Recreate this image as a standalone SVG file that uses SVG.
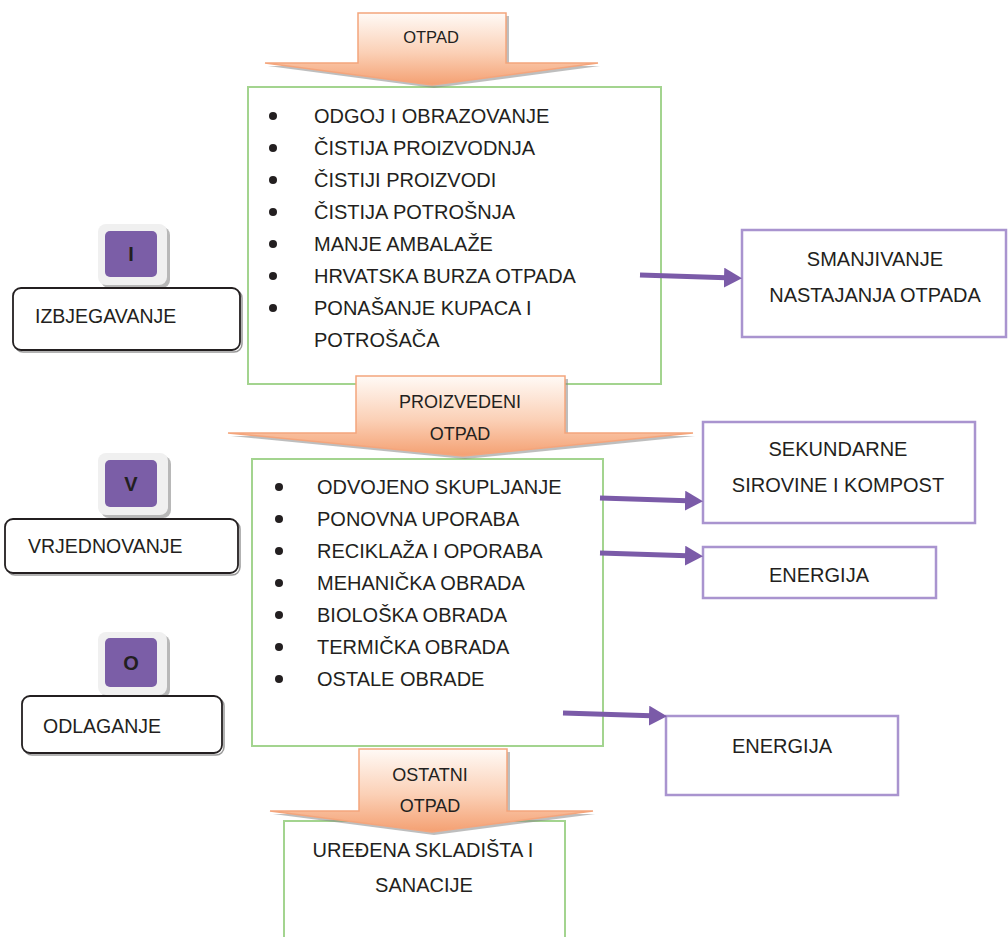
<svg xmlns="http://www.w3.org/2000/svg" width="1008" height="937" viewBox="0 0 1008 937">
<style>
.t{font-family:"Liberation Sans",Arial,sans-serif;fill:#231f20;}
.li{font-size:20px;}
.lab{font-size:19.5px;}
.rt{font-size:20px;text-anchor:middle;}
.at{text-anchor:middle;}
.sq{font-size:20px;font-weight:bold;text-anchor:middle;}
.gbox{fill:#fff;stroke:#a3d48f;stroke-width:2;}
.pbox{fill:#fff;stroke:#a994cf;stroke-width:2.5;}
.lbox{fill:#fff;stroke:#231f20;stroke-width:1.8;}
.lsh{fill:none;stroke:#555;stroke-width:1.5;opacity:0.6;}
.sqo{fill:#f0f0f0;}
.sqs{fill:#9a9a9a;opacity:0.7;}
.sqi{fill:#7b5ea7;}
.arr{fill:url(#og);stroke:#f4a57c;stroke-width:1.5;}
.ash{fill:#888;opacity:0.55;}
.con{stroke:#7b5ba8;stroke-width:5;fill:none;marker-end:url(#ah);}
.bul{fill:#231f20;}
</style>
<defs>
<linearGradient id="og" x1="0" y1="0" x2="0" y2="1">
<stop offset="0" stop-color="#fffaf6"/>
<stop offset="0.55" stop-color="#fbd0b6"/>
<stop offset="1" stop-color="#f4a072"/>
</linearGradient>
<marker id="ah" viewBox="0 0 18 20" refX="10" refY="10" markerWidth="18" markerHeight="20" markerUnits="userSpaceOnUse" orient="auto">
<path d="M0,0 L18,10 L0,20 z" fill="#7b5ba8"/>
</marker>
</defs>

<g id="box-izbjegavanje-list">
<rect class="gbox" x="248" y="87" width="413" height="297"/>
<g class="bul"><circle cx="273" cy="116" r="4"/><circle cx="273" cy="148" r="4"/><circle cx="273" cy="180" r="4"/><circle cx="273" cy="212" r="4"/><circle cx="273" cy="244" r="4"/><circle cx="273" cy="276" r="4"/><circle cx="273" cy="308" r="4"/></g>
<text class="t li" x="314" y="123">ODGOJ I OBRAZOVANJE</text>
<text class="t li" x="314" y="155">ČISTIJA PROIZVODNJA</text>
<text class="t li" x="314" y="187">ČISTIJI PROIZVODI</text>
<text class="t li" x="314" y="219">ČISTIJA POTROŠNJA</text>
<text class="t li" x="314" y="251">MANJE AMBALAŽE</text>
<text class="t li" x="314" y="283">HRVATSKA BURZA OTPADA</text>
<text class="t li" x="314" y="315">PONAŠANJE KUPACA I</text>
<text class="t li" x="314" y="347">POTROŠAČA</text>
</g>

<g id="box-vrjednovanje-list">
<rect class="gbox" x="252" y="459" width="351" height="287"/>
<g class="bul"><circle cx="279" cy="487" r="4"/><circle cx="279" cy="519" r="4"/><circle cx="279" cy="551" r="4"/><circle cx="279" cy="583" r="4"/><circle cx="279" cy="615" r="4"/><circle cx="279" cy="647" r="4"/><circle cx="279" cy="679" r="4"/></g>
<text class="t li" x="317" y="494">ODVOJENO SKUPLJANJE</text>
<text class="t li" x="317" y="526">PONOVNA UPORABA</text>
<text class="t li" x="317" y="558">RECIKLAŽA I OPORABA</text>
<text class="t li" x="317" y="590">MEHANIČKA OBRADA</text>
<text class="t li" x="317" y="622">BIOLOŠKA OBRADA</text>
<text class="t li" x="317" y="654">TERMIČKA OBRADA</text>
<text class="t li" x="317" y="686">OSTALE OBRADE</text>
</g>

<g id="box-skladista">
<rect class="gbox" x="284" y="821" width="281" height="130"/>
<text class="t rt" x="423" y="857">UREĐENA SKLADIŠTA I</text>
<text class="t rt" x="424" y="892">SANACIJE</text>
</g>

<g id="arrow-otpad">
<polygon class="ash" points="361,16 509,16 509,66 600,66 434,88 268,66 361,66"/>
<polygon class="arr" points="358,13 506,13 506,63 598,63 432,85 265,63 358,63"/>
<text class="t at" x="431" y="43" font-size="16.5">OTPAD</text>
</g>

<g id="arrow-proizvedeni">
<polygon class="ash" points="359,379 568,379 568,436 695,436 465,459 231,436 359,436"/>
<polygon class="arr" points="356,376 565,376 565,433 693,433 463,456 228,433 356,433"/>
<text class="t at" x="460" y="408" font-size="18">PROIZVEDENI</text>
<text class="t at" x="460" y="440" font-size="18">OTPAD</text>
</g>

<g id="arrow-ostatni">
<polygon class="ash" points="362,752 510,752 510,814 595,814 434,835 273,814 362,814"/>
<polygon class="arr" points="359,749 507,749 507,811 593,811 432,832 270,811 359,811"/>
<text class="t at" x="430" y="781" font-size="18">OSTATNI</text>
<text class="t at" x="430" y="812" font-size="18">OTPAD</text>
</g>

<g id="node-I">
<rect class="sqs" x="101" y="227" width="69" height="61" rx="8"/>
<rect class="sqo" x="98" y="224" width="69" height="61" rx="8"/>
<rect class="sqi" x="105" y="231" width="52" height="46" rx="5"/>
<text class="t sq" x="131" y="261">I</text>
</g>
<g id="node-izbjegavanje">
<rect class="lsh" x="15" y="290" width="227" height="62" rx="8"/>
<rect class="lbox" x="13" y="288" width="227" height="62" rx="8"/>
<text class="t lab" x="35" y="323">IZBJEGAVANJE</text>
</g>

<g id="node-V">
<rect class="sqs" x="101" y="456" width="70" height="62" rx="8"/>
<rect class="sqo" x="98" y="453" width="70" height="62" rx="8"/>
<rect class="sqi" x="105" y="460" width="52" height="47" rx="5"/>
<text class="t sq" x="131" y="491">V</text>
</g>
<g id="node-vrjednovanje">
<rect class="lsh" x="7" y="521" width="233" height="54" rx="8"/>
<rect class="lbox" x="5" y="519" width="233" height="54" rx="8"/>
<text class="t lab" x="28" y="553">VRJEDNOVANJE</text>
</g>

<g id="node-O">
<rect class="sqs" x="101" y="635" width="69" height="63" rx="8"/>
<rect class="sqo" x="98" y="632" width="69" height="63" rx="8"/>
<rect class="sqi" x="105" y="638" width="52" height="49" rx="5"/>
<text class="t sq" x="131" y="670">O</text>
</g>
<g id="node-odlaganje">
<rect class="lsh" x="24" y="698" width="200" height="57" rx="8"/>
<rect class="lbox" x="22" y="696" width="200" height="57" rx="8"/>
<text class="t lab" x="43" y="733">ODLAGANJE</text>
</g>

<g id="node-smanjivanje">
<rect class="pbox" x="742" y="230" width="264" height="107"/>
<text class="t rt" x="875" y="266">SMANJIVANJE</text>
<text class="t rt" x="875" y="302">NASTAJANJA OTPADA</text>
</g>

<g id="node-sekundarne">
<rect class="pbox" x="703" y="422" width="272" height="101"/>
<text class="t rt" x="838" y="456">SEKUNDARNE</text>
<text class="t rt" x="838" y="492">SIROVINE I KOMPOST</text>
</g>

<g id="node-energija1">
<rect class="pbox" x="703" y="547" width="233" height="51"/>
<text class="t rt" x="819" y="582">ENERGIJA</text>
</g>

<g id="node-energija2">
<rect class="pbox" x="666" y="716" width="232" height="79"/>
<text class="t rt" x="782" y="753">ENERGIJA</text>
</g>

<g id="connectors">
<line class="con" x1="640" y1="275" x2="734" y2="278"/>
<line class="con" x1="600" y1="498" x2="695" y2="501"/>
<line class="con" x1="600" y1="553" x2="695" y2="556"/>
<line class="con" x1="563" y1="713" x2="659" y2="716"/>
</g>
</svg>
